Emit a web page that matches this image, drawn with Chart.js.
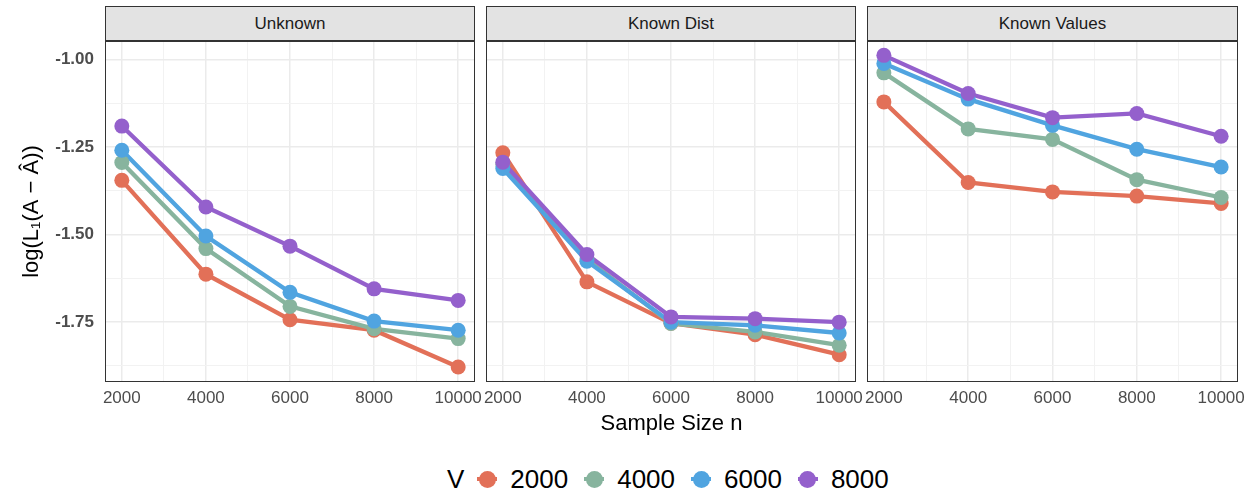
<!DOCTYPE html>
<html>
<head>
<meta charset="utf-8">
<script src="https://cdn.jsdelivr.net/npm/chart.js@4/dist/chart.umd.min.js"></script>
<style>
  body { margin: 0; width: 1250px; height: 494px; background: #fff; position: relative; overflow: hidden;
         font-family: "Liberation Sans", Arial, sans-serif; }
  .panel { position: absolute; top: 31px; height: 400px; }
  .strip { position: absolute; top: 6px; height: 35px; box-sizing: border-box; background: #e3e3e3;
           border: 1px solid #333; color: #1a1a1a; font-size: 17px; line-height: 33px; text-align: center; }
  #xtitle { position: absolute; left: 0; width: 1343px; top: 412px; font-size: 22px; line-height: 22px;
            text-align: center; color: #000; }
  #legend { position: absolute; left: 447px; top: 466px; height: 26px; display: flex; align-items: center;
            font-size: 26px; line-height: 26px; color: #000; }
  .key { position: relative; width: 20px; height: 17px; margin-left: 16px; margin-right: 13px; }
  .key .ln { position: absolute; left: 0; right: 0; top: 6.5px; height: 4px; }
  .key .pt { position: absolute; left: 1.5px; top: 0; width: 17px; height: 17px; border-radius: 50%; }
</style>
</head>
<body>
<div class="panel" style="left:0px;width:490px"><canvas id="c0" width="490" height="400"></canvas></div>
<div class="panel" style="left:470px;width:400px"><canvas id="c1" width="400" height="400"></canvas></div>
<div class="panel" style="left:850px;width:400px"><canvas id="c2" width="400" height="400"></canvas></div>
<div class="strip" style="left:105px;width:370px">Unknown</div>
<div class="strip" style="left:486px;width:370px">Known Dist</div>
<div class="strip" style="left:867px;width:371px">Known Values</div>
<div id="xtitle">Sample Size n</div>
<div id="legend"><span style="margin-right:-3px">V</span></div>
<script>
const sampleSizes = [2000, 4000, 6000, 8000, 10000];
const vLevels = ['2000', '4000', '6000', '8000'];
const vColors = ['#E27058', '#87B49E', '#50A4E0', '#9460CC'];
const panelTitles = ['Unknown', 'Known Dist', 'Known Values'];

// log L1 error per sample size, one array per V
const unknownV2000 = [-1.345, -1.613, -1.743, -1.773, -1.878];
const unknownV4000 = [-1.294, -1.540, -1.705, -1.769, -1.797];
const unknownV6000 = [-1.259, -1.504, -1.665, -1.747, -1.773];
const unknownV8000 = [-1.190, -1.421, -1.533, -1.655, -1.688];

const knownDistV2000 = [-1.266, -1.635, -1.753, -1.786, -1.843];
const knownDistV4000 = [-1.300, -1.570, -1.754, -1.778, -1.816];
const knownDistV6000 = [-1.311, -1.576, -1.750, -1.759, -1.781];
const knownDistV8000 = [-1.293, -1.557, -1.735, -1.740, -1.750];

const knownValV2000 = [-1.121, -1.351, -1.378, -1.390, -1.411];
const knownValV4000 = [-1.038, -1.198, -1.228, -1.343, -1.394];
const knownValV6000 = [-1.011, -1.113, -1.188, -1.256, -1.307];
const knownValV8000 = [-0.988, -1.097, -1.166, -1.154, -1.219];

const xTicks = [2000, 3000, 4000, 5000, 6000, 7000, 8000, 9000, 10000];
const yTicks = [-1.875, -1.75, -1.625, -1.5, -1.375, -1.25, -1.125, -1.0];

const panelSeries = [
  [unknownV2000, unknownV4000, unknownV6000, unknownV8000],
  [knownDistV2000, knownDistV4000, knownDistV6000, knownDistV8000],
  [knownValV2000, knownValV4000, knownValV6000, knownValV8000]
];

const panelLayout = [
  { pad: { left: 0, right: 15 }, yWidth: 105 },
  { pad: { left: 16, right: 14 }, yWidth: 0 },
  { pad: { left: 17, right: 12 }, yWidth: 0 }
];

// dark frame round each plotting area
const panelBorder = {
  id: 'panelBorder',
  afterDraw(chart) {
    const { ctx, chartArea: a } = chart;
    ctx.save();
    ctx.strokeStyle = '#333333';
    ctx.lineWidth = 1;
    ctx.strokeRect(a.left + 0.5, a.top + 0.5, a.width - 1, a.height - 1);
    ctx.restore();
  }
};

const isMajorX = v => v % 2000 === 0;
const isMajorY = v => Math.abs(v * 4 - Math.round(v * 4)) < 1e-9;

function buildDatasets(series) {
  const sets = [];
  series.forEach((vals, i) => {
    const pts = sampleSizes.map((n, j) => ({ x: n, y: vals[j] }));
    // lines underneath all points, higher V on top
    sets.push({
      label: vLevels[i], data: pts, borderColor: vColors[i], borderWidth: 4.3,
      pointRadius: 0, fill: false, order: 4 + (3 - i)
    });
    sets.push({
      label: vLevels[i], data: pts, showLine: false, pointRadius: 7.5, pointHoverRadius: 7.5,
      pointBackgroundColor: vColors[i], pointBorderWidth: 0, order: 3 - i
    });
  });
  return sets;
}

panelSeries.forEach((series, p) => {
  const lay = panelLayout[p];
  new Chart(document.getElementById('c' + p), {
    type: 'line',
    data: { datasets: buildDatasets(series) },
    plugins: [panelBorder],
    options: {
      responsive: false,
      animation: false,
      layout: { padding: { left: lay.pad.left, right: lay.pad.right, top: 10, bottom: 14 } },
      plugins: { legend: { display: false }, tooltip: { enabled: false } },
      scales: {
        x: {
          type: 'linear', min: 1600, max: 10400,
          afterBuildTicks: axis => { axis.ticks = xTicks.map(v => ({ value: v })); },
          afterFit: axis => { axis.height = 35; axis.paddingLeft = 0; axis.paddingRight = 0; },
          border: { display: false },
          grid: {
            drawTicks: false,
            color: ctx => isMajorX(ctx.tick.value) ? '#EBEBEB' : '#F2F2F2',
            lineWidth: ctx => isMajorX(ctx.tick.value) ? 1.5 : 1
          },
          ticks: {
            autoSkip: false, maxRotation: 0, padding: 6, color: '#4D4D4D',
            font: { family: '"Liberation Sans", Arial, sans-serif', size: 17 },
            callback: v => isMajorX(v) ? String(v) : ''
          }
        },
        y: {
          min: -1.921, max: -0.947,
          afterBuildTicks: axis => { axis.ticks = yTicks.map(v => ({ value: v })); },
          afterFit: axis => { axis.width = lay.yWidth; axis.paddingTop = 0; axis.paddingBottom = 0; },
          border: { display: false },
          grid: {
            drawTicks: false,
            color: ctx => isMajorY(ctx.tick.value) ? '#EBEBEB' : '#F2F2F2',
            lineWidth: ctx => isMajorY(ctx.tick.value) ? 1.5 : 1
          },
          title: {
            display: p === 0, text: 'log(L\u2081(A \u2212 \u00C2))', color: '#000',
            padding: { top: 19, bottom: 0 },
            font: { family: '"Liberation Sans", Arial, sans-serif', size: 22 }
          },
          ticks: {
            display: p === 0, padding: 11, color: '#4D4D4D',
            font: { family: '"Liberation Sans", Arial, sans-serif', size: 17, weight: 'bold' },
            callback: v => isMajorY(v) ? v.toFixed(2) : ''
          }
        }
      }
    }
  });
});

// legend row for V
const legend = document.getElementById('legend');
vLevels.forEach((lvl, i) => {
  const key = document.createElement('span');
  key.className = 'key';
  key.innerHTML = '<span class="ln" style="background:' + vColors[i] + '"></span>' +
                  '<span class="pt" style="background:' + vColors[i] + '"></span>';
  const txt = document.createElement('span');
  txt.textContent = lvl;
  legend.appendChild(key);
  legend.appendChild(txt);
});
</script>
</body>
</html>
